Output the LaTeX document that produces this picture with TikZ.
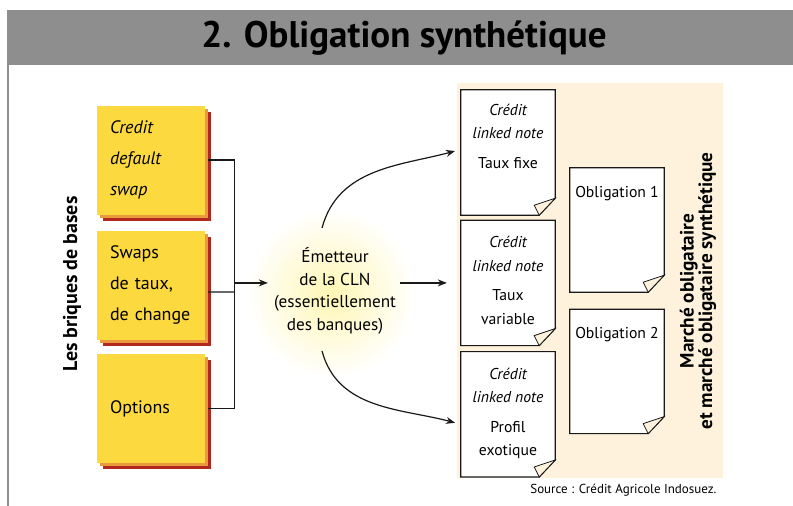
\documentclass[tikz,border=0pt]{standalone}
\usepackage{fontspec}
\setmainfont{PT Sans}
\usetikzlibrary{arrows.meta, positioning, shadows}
\definecolor{barGray}{HTML}{8E8E8E}
\definecolor{brickYellow}{HTML}{FDD940}
\definecolor{brickOrange}{HTML}{EA9A3C}
\definecolor{brickRed}{HTML}{B0281E}
\definecolor{panelCream}{HTML}{FEF2DC}
\definecolor{glowYellow}{HTML}{FFF6B4}
\definecolor{lineBlack}{gray}{0.1}

\begin{document}
\begin{tikzpicture}[x=1pt, y=-1pt,
    brick/.style={fill=brickYellow, minimum width=108pt, minimum height=109pt,
        text width=82pt, inner xsep=13pt, align=left,
        font=\fontsize{18}{31}\selectfont,
        general shadow={fill=brickRed, shadow xshift=6pt, shadow yshift=-6pt},
        general shadow={fill=brickOrange, shadow xshift=3pt, shadow yshift=-3pt}},
    sheet/.style={minimum width=94pt, minimum height=125pt, inner sep=0pt},
    sheettext/.style={anchor=north, align=center, inner sep=0pt,
        font=\fontsize{15.7}{23.5}\selectfont},
    wire/.style={lineBlack, line width=1.2pt},
    arrow/.style={wire, -{Stealth[length=9pt, width=7pt]}}]
    \useasboundingbox (0,0) rectangle (793,506);
    % cadre et titre
    \fill[barGray] (7,10) rectangle (793,65);
    \fill[barGray] (7,65) rectangle (9,506);
    \node[font=\fontsize{37}{37}\bfseries] (title) at (404,38) {2. Obligation synthétique};
    \fill[panelCream] (457,83) rectangle (723,478);
    \shade[inner color=glowYellow, outer color=white] (331,294) circle (85pt);

    % briques de base
    \node[brick] (brick1) at (151,160) {\itshape Credit\\\itshape default\\\itshape swap};
    \node[brick, below=16pt of brick1] (brick2) {Swaps\\de taux,\\de change};
    \node[brick, below=14pt of brick2] (brick3) {Options};
    \node[rotate=90, font=\fontsize{20}{22}\bfseries] (briques) at (72,284) {Les briques de bases};

    \node[align=center, inner xsep=4pt, font=\fontsize{17.2}{22.7}\selectfont] (emit) at (335,291)
        {Émetteur\\de la CLN\\(essentiellement\\des banques)};

    % notes et obligations
    \node[sheet] (cln1) at (508,152.5) {};
    \node[sheet, below=5pt of cln1] (cln2) {};
    \node[sheet, below=6pt of cln2] (cln3) {};
    \node[sheet, minimum height=124pt] (oblig1) at (617,230) {};
    \node[sheet, minimum height=124pt, below=17pt of oblig1] (oblig2) {};
    \foreach \n in {cln1, cln2, cln3, oblig1, oblig2} {
        \draw[wire, fill=white] (\n.north west) -- (\n.north east) -- ([yshift=17pt]\n.south east)
            -- ([xshift=-16pt]\n.south east) -- (\n.south west) -- cycle;
        \draw[wire, line width=0.8pt, fill=panelCream] ([yshift=17pt]\n.south east)
            -- ([xshift=-21pt, yshift=10pt]\n.south east) -- ([xshift=-16pt]\n.south east) -- cycle;
    }
    \node[sheettext] (cln1t) at ([yshift=-14pt]cln1.north) {\itshape Crédit\\\itshape linked note\\[6pt]Taux fixe};
    \node[sheettext] (cln2t) at ([yshift=-16pt]cln2.north) {\itshape Crédit\\\itshape linked note\\[6pt]Taux\\variable};
    \node[sheettext] (cln3t) at ([yshift=-16pt]cln3.north) {\itshape Crédit\\\itshape linked note\\[6pt]Profil\\exotique};
    \node[sheettext] (oblig1t) at ([yshift=-18pt]oblig1.north) {Obligation 1};
    \node[sheettext] (oblig2t) at ([yshift=-18pt]oblig2.north) {Obligation 2};
    \node[rotate=90, align=center, font=\fontsize{19.2}{18.5}\bfseries] (marche) at (698,291)
        {Marché obligataire\\et marché obligataire synthétique};
    \node[anchor=east, font=\fontsize{13}{14}\selectfont] (source) at (720,490)
        {Source : Crédit Agricole Indosuez.};

    % liaisons
    \draw[wire] ([xshift=3pt]brick1.east) -- ++(26,0) coordinate (bus) -- (bus |- brick3.east)
        -- ([xshift=3pt]brick3.east);
    \draw[wire] ([xshift=3pt, yshift=-6.5pt]brick2.east) -- (bus |- 0,292);
    \draw[arrow] (bus |- cln2.west) -- ([xshift=-2pt]emit.west |- cln2.west);
    \draw[arrow, shorten >=14pt] (emit.east |- cln2.west) -- (cln2.west);
    \draw[arrow, shorten >=6pt] ([xshift=-13pt, yshift=16pt]emit.north) to[out=75, in=195] ([yshift=3pt]cln1.west);
    \draw[arrow, shorten >=6pt] ([xshift=-13pt, yshift=-13pt]emit.south) to[out=-75, in=165] ([yshift=-10pt]cln3.west);
\end{tikzpicture}
\end{document}
